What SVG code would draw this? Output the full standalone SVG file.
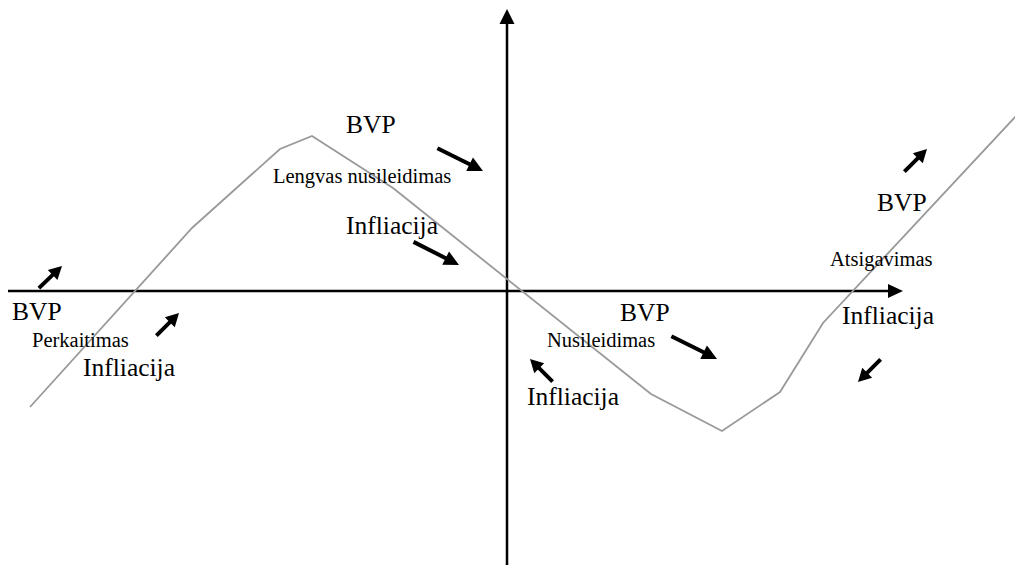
<svg xmlns="http://www.w3.org/2000/svg" xmlns:xlink="http://www.w3.org/1999/xlink" width="1015" height="568" viewBox="0 0 1015 568">
<style>
.big{font-family:"Liberation Serif","Times New Roman",serif;font-size:25.5px;fill:#000}
.small{font-family:"Liberation Serif","Times New Roman",serif;font-size:20.5px;fill:#000}
.axis{stroke:#000;stroke-width:2.5;fill:none}
.curve{stroke:#999;stroke-width:1.8;fill:none;stroke-linejoin:miter}
</style>
<defs>
<g id="arrS"><line x1="-32" y1="0" x2="-10" y2="0" stroke="#000" stroke-width="4"/><polygon points="0,0 -13,-7 -13,7" fill="#000"/></g>
<g id="arrL"><line x1="-51" y1="0" x2="-11" y2="0" stroke="#000" stroke-width="4"/><polygon points="0,0 -15,-7.5 -15,7.5" fill="#000"/></g>
</defs>
<rect width="1015" height="568" fill="#fff"/>
<g id="axes">
<line class="axis" x1="8" y1="291" x2="890" y2="291"/>
<polygon points="903,291 888,284 888,298" fill="#000"/>
<line class="axis" x1="507" y1="565" x2="507" y2="22"/>
<polygon points="507,9 499.5,24 514.5,24" fill="#000"/>
</g>
<g id="curve">
<polyline class="curve" points="30,407 192,228 280,149 312,136 393,188 651,394 722,431 780,392 823,323 1016,116"/>
</g>
<g id="labels">
<text class="big" x="12" y="320">BVP</text>
<text class="small" x="32" y="347">Perkaitimas</text>
<text class="big" x="83" y="376">Infliacija</text>
<text class="big" x="346" y="133">BVP</text>
<text class="small" x="273" y="183">Lengvas nusileidimas</text>
<text class="big" x="346" y="234">Infliacija</text>
<text class="big" x="620" y="321">BVP</text>
<text class="small" x="547" y="347">Nusileidimas</text>
<text class="big" x="527" y="405">Infliacija</text>
<text class="big" x="877" y="211">BVP</text>
<text class="small" x="830" y="266">Atsigavimas</text>
<text class="big" x="842" y="324">Infliacija</text>
</g>
<g id="arrows">
<use xlink:href="#arrS" transform="translate(62,266) rotate(-43.7)"/>
<use xlink:href="#arrS" transform="translate(179,313) rotate(-45)"/>
<use xlink:href="#arrL" transform="translate(483,171) rotate(26.6)"/>
<use xlink:href="#arrL" transform="translate(459,265) rotate(27)"/>
<use xlink:href="#arrL" transform="translate(717,359) rotate(26.6)"/>
<use xlink:href="#arrS" transform="translate(530,359) rotate(-135)"/>
<use xlink:href="#arrS" transform="translate(927,149) rotate(-45)"/>
<use xlink:href="#arrS" transform="translate(858,382) rotate(135)"/>
</g>
</svg>
